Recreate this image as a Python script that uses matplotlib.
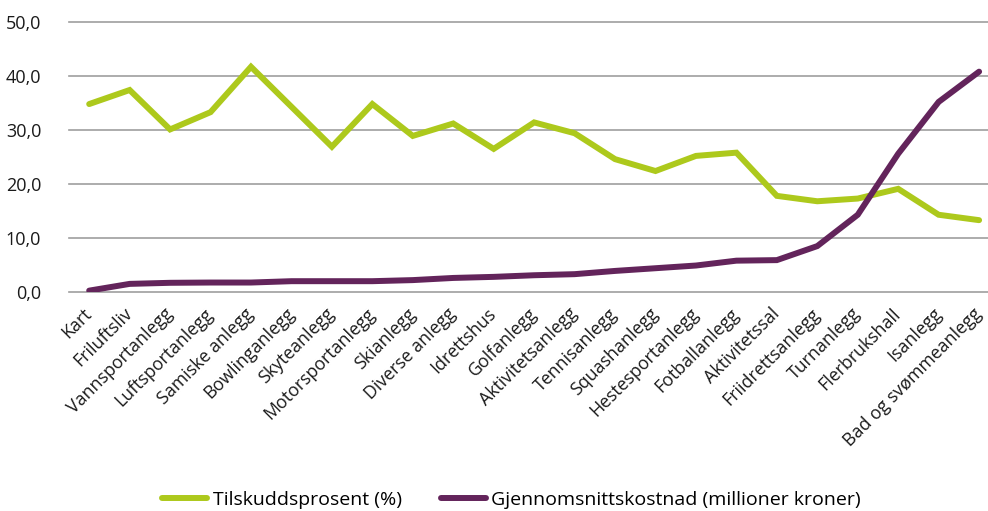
import numpy as np
import matplotlib.pyplot as plt
from matplotlib.transforms import ScaledTranslation

plt.rcParams['font.family'] = ['Open Sans', 'DejaVu Sans']

categories = ["Kart", "Friluftsliv", "Vannsportanlegg", "Luftsportanlegg", "Samiske anlegg",
              "Bowlinganlegg", "Skyteanlegg", "Motorsportanlegg", "Skianlegg", "Diverse anlegg",
              "Idrettshus", "Golfanlegg", "Aktivitetsanlegg", "Tennisanlegg", "Squashanlegg",
              "Hestesportanlegg", "Fotballanlegg", "Aktivitetssal", "Friidrettsanlegg", "Turnanlegg",
              "Flerbrukshall", "Isanlegg", "Bad og svømmeanlegg"]
tilskudd = [34.8, 37.4, 30.1, 33.3, 41.7, 34.3, 26.9, 34.8, 28.9, 31.2, 26.5, 31.4,
            29.4, 24.6, 22.4, 25.2, 25.8, 17.8, 16.8, 17.3, 19.1, 14.3, 13.3]
kostnad = [0.25, 1.5, 1.7, 1.75, 1.75, 2.0, 2.0, 2.0, 2.2, 2.6, 2.8, 3.1,
           3.3, 3.9, 4.4, 4.9, 5.8, 5.9, 8.5, 14.3, 25.6, 35.2, 40.8]
yticks = [0, 10, 20, 30, 40, 50]

green = "#adc91c"
purple = "#63245b"

fig = plt.figure(figsize=(9.88, 5.11), dpi=100)
ax = fig.add_axes([0.0698, 0.4286, 0.9302, 0.5284])

x = np.arange(len(categories))
ax.plot(x, tilskudd, color=green, lw=4.3, solid_capstyle='round', solid_joinstyle='miter',
        label="Tilskuddsprosent (%)", zorder=3)
ax.plot(x, kostnad, color=purple, lw=4.3, solid_capstyle='round', solid_joinstyle='miter',
        label="Gjennomsnittskostnad (millioner kroner)", zorder=3)

ax.set_ylim(0, 50)
ax.set_xlim(-0.5, 22.22)
ax.set_yticks(yticks)
ax.set_yticklabels([f"{v:.1f}".replace(".", ",") for v in yticks], fontsize=13, color="#1a1a1a")
ax.set_xticks(x)
ax.set_xticklabels([])
# category labels drawn as text so they can be nudged relative to the tick
shift = ScaledTranslation(0.0, -0.19, fig.dpi_scale_trans)
for i, name in enumerate(categories):
    ax.text(i, 0, name, transform=ax.get_xaxis_transform() + shift, rotation=45,
            ha='right', va='center', rotation_mode='anchor', fontsize=12.8, color="#1a1a1a")
ax.tick_params(axis='both', length=0)
ax.tick_params(axis='y', pad=20)
for s in ax.spines.values():
    s.set_visible(False)
ax.grid(axis='y', color="#9e9e9e", lw=1.2, clip_on=False)
ax.set_axisbelow(True)

fig.legend(loc='center', bbox_to_anchor=(0.518, 0.022), ncol=2, frameon=False, fontsize=14,
           handlelength=2.3, columnspacing=2.0, handletextpad=0.3)

fig.savefig("out.png", dpi=100)
